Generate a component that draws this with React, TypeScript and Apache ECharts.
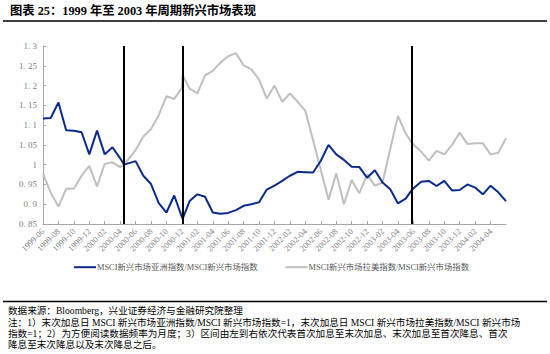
import React, { useEffect, useRef } from "react";
import * as echarts from "echarts";

// ---- data ----
const dates = [
  "1999-06", "1999-07", "1999-08", "1999-09", "1999-10", "1999-11", "1999-12",
  "2000-01", "2000-02", "2000-03", "2000-04", "2000-05-16", "2000-06", "2000-07", "2000-08", "2000-09", "2000-10", "2000-11", "2000-12",
  "2001-01-03",
  "2001-01", "2001-02", "2001-03", "2001-04", "2001-05", "2001-06", "2001-07", "2001-08", "2001-09", "2001-10", "2001-11", "2001-12",
  "2002-01", "2002-02", "2002-03", "2002-04", "2002-05", "2002-06", "2002-07", "2002-08", "2002-09", "2002-10", "2002-11", "2002-12",
  "2003-01", "2003-02", "2003-03", "2003-04", "2003-05", "2003-06-25", "2003-07", "2003-08", "2003-09", "2003-10", "2003-11", "2003-12",
  "2004-01", "2004-02", "2004-03", "2004-04", "2004-05", "2004-06",
];

const asiaRatio = [
  1.117, 1.118, 1.157, 1.087, 1.086, 1.082, 1.026,
  1.086, 1.026, 1.044, 1.016, 1.0, 1.009, 0.972, 0.951, 0.903, 0.879, 0.922, 0.868,
  0.863,
  0.908, 0.925, 0.919, 0.879, 0.876, 0.878, 0.885, 0.896, 0.9, 0.905, 0.937, 0.947,
  0.959, 0.972, 0.982, 0.981, 0.98, 1.01, 1.05, 1.026, 1.012, 0.995, 0.994, 0.967,
  0.986, 0.955, 0.938, 0.902, 0.914, 0.937, 0.957, 0.959, 0.946, 0.959, 0.935, 0.936,
  0.95, 0.942, 0.925, 0.947, 0.93, 0.908,
];

const latamRatio = [
  0.978, 0.929, 0.894, 0.939, 0.94, 0.972, 0.997,
  0.945, 1.002, 1.006, 0.994, 1.0, 1.037, 1.071, 1.09, 1.125, 1.173, 1.166, 1.194,
  1.226,
  1.192, 1.18, 1.226, 1.237, 1.258, 1.274, 1.282, 1.251, 1.241, 1.215, 1.167, 1.2,
  1.159, 1.18, 1.159, 1.136, 1.062, 0.987, 0.911, 0.978, 0.9, 0.961, 0.928, 0.975,
  0.947, 0.955, 1.04, 1.123, 1.079, 1.054, 1.033, 1.01, 1.035, 1.026, 1.05, 1.081,
  1.052, 1.054, 1.054, 1.026, 1.03, 1.067,
];

const rateEvents = ["2000-05-16", "2001-01-03", "2003-06-25"];

const tickLabels = [
  "1999-06", "1999-08", "1999-10", "1999-12", "2000-02", "2000-04", "2000-06", "2000-08", "2000-10", "2000-12",
  "2001-02", "2001-04", "2001-06", "2001-08", "2001-10", "2001-12", "2002-02", "2002-04", "2002-06", "2002-08",
  "2002-10", "2002-12", "2003-02", "2003-04", "2003-06", "2003-08", "2003-10", "2003-12", "2004-02", "2004-04",
];

const yTicks = { min: 0.85, max: 1.3, interval: 0.05 };
const axisEnd = "2004-06";

const seriesNames = ["MSCI新兴市场亚洲指数/MSCI新兴市场指数", "MSCI新兴市场拉美指数/MSCI新兴市场指数"];

const titleText = "图表 25：1999 年至 2003 年周期新兴市场表现";
const sourceText = "数据来源：Bloomberg，兴业证券经济与金融研究院整理";
const noteLines = [
  "注：1）末次加息日 MSCI 新兴市场亚洲指数/MSCI 新兴市场指数=1，末次加息日 MSCI 新兴市场拉美指数/MSCI 新兴市场",
  "指数=1；2）为方便阅读数据频率为月度；3）区间由左到右依次代表首次加息至末次加息、末次加息至首次降息、首次",
  "降息至末次降息以及末次降息之后。",
];

// month index: month-end of 1999-06 = 0
function monthIndex(s: string): number {
  const p = s.split("-").map(Number);
  const base = (p[0] - 1999) * 12 + (p[1] - 6);
  if (p.length < 3) return base;
  const dim = new Date(p[0], p[1], 0).getDate();
  return base + (p[2] - dim) / dim;
}

const FONT = "'Liberation Serif','Noto Sans CJK SC',serif";

export default function App() {
  const ref = useRef<HTMLDivElement>(null);
  useEffect(() => {
    if (!ref.current) return;
    const chart = echarts.init(ref.current, null, { renderer: "svg" });
    const xs = dates.map(monthIndex);
    const tickVals = tickLabels.map(monthIndex);
    const labelMap: Record<string, string> = {};
    tickLabels.forEach((t) => (labelMap[String(monthIndex(t))] = t));

    chart.setOption({
      animation: false,
      backgroundColor: "#ffffff",
      grid: { left: 43, right: 44, top: 46, bottom: 130 },
      legend: {
        data: seriesNames,
        top: 258,
        left: 69,
        itemWidth: 22,
        itemHeight: 2,
        itemGap: 28,
        icon: "rect",
        textStyle: { fontFamily: FONT, fontSize: 8.4, color: "#595959", padding: [0, 0, 0, -4] },
      },
      xAxis: {
        type: "value",
        min: 0,
        max: monthIndex(axisEnd),
        splitLine: { show: false },
        axisLine: { show: true, lineStyle: { color: "#a6a6a6", width: 1 } },
        axisTick: { show: true, inside: true, length: 3, customValues: tickVals, lineStyle: { color: "#a6a6a6" } },
        axisLabel: {
          customValues: tickVals,
          rotate: 45,
          margin: 6,
          fontFamily: FONT,
          fontSize: 8.5,
          color: "#7f7f7f",
          formatter: (v: number) => labelMap[String(v)] || "",
        },
      },
      yAxis: {
        type: "value",
        min: yTicks.min,
        max: yTicks.max,
        interval: yTicks.interval,
        splitLine: { show: false },
        axisLine: { show: true, lineStyle: { color: "#a6a6a6", width: 1 } },
        axisTick: { show: true, inside: true, length: 3, lineStyle: { color: "#a6a6a6" } },
        axisLabel: {
          margin: 6,
          fontFamily: FONT,
          fontSize: 9,
          color: "#7f7f7f",
          formatter: (v: number) => String(Number(v.toFixed(2))).replace(".", ". "),
        },
      },
      series: [
        {
          name: seriesNames[0],
          type: "line",
          z: 4,
          data: xs.map((x, i) => [x, asiaRatio[i]]),
          showSymbol: false,
          symbol: "none",
          lineStyle: { color: "#0a2a8c", width: 2 },
          itemStyle: { color: "#0a2a8c" },
          markLine: {
            silent: true,
            symbol: "none",
            z: 6,
            label: { show: false },
            lineStyle: { color: "#000000", width: 2, type: "solid" },
            data: rateEvents.map((d) => ({ xAxis: monthIndex(d) })),
          },
        },
        {
          name: seriesNames[1],
          type: "line",
          z: 3,
          data: xs.map((x, i) => [x, latamRatio[i]]),
          showSymbol: false,
          symbol: "none",
          lineStyle: { color: "#bfbfbf", width: 2 },
          itemStyle: { color: "#bfbfbf" },
        },
      ],
      graphic: [
        {
          type: "text",
          left: 10,
          top: 5,
          style: { text: titleText, font: `bold 12.3px ${FONT}`, fill: "#000" },
        },
        { type: "line", shape: { x1: 3, y1: 21, x2: 547, y2: 21 }, style: { stroke: "#000", lineWidth: 1.5 } },
        { type: "line", shape: { x1: 3, y1: 301.5, x2: 547, y2: 301.5 }, style: { stroke: "#000", lineWidth: 1.5 } },
        {
          type: "text",
          x: 8,
          y: 310,
          style: { text: sourceText, font: `9.6px ${FONT}`, fill: "#000", verticalAlign: "middle" },
        },
        ...noteLines.map((t, i) => ({
          type: "text",
          x: 8,
          y: 322.5 + i * 11.2,
          style: { text: t, font: `9.6px ${FONT}`, fill: "#000", verticalAlign: "middle" },
        })),
      ],
    });
    return () => chart.dispose();
  }, []);
  return (
    <div
      ref={ref}
      style={{ position: "fixed", left: 0, top: 0, width: 550, height: 354, background: "#fff" }}
    />
  );
}
